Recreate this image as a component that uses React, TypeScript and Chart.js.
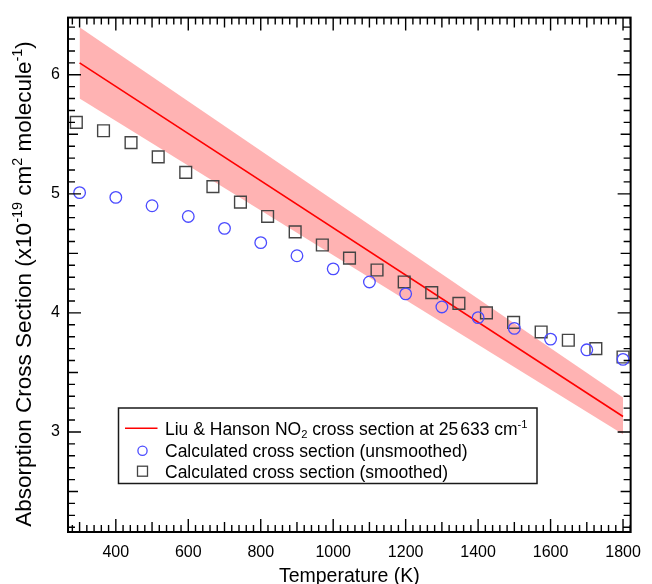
import { useEffect, useRef } from 'react';
import { Chart, registerables } from 'chart.js';

Chart.register(...registerables);

const FONT = '"Liberation Sans", Arial, Helvetica, sans-serif';

// Calculated NO2 cross section, unsmoothed (blue circles)
const unsmoothedTemp = [300, 400, 500, 600, 700, 800, 900, 1000, 1100, 1200, 1300, 1400, 1500, 1600, 1700, 1800];
const unsmoothedSigma = [5.01, 4.97, 4.90, 4.81, 4.71, 4.59, 4.48, 4.37, 4.26, 4.16, 4.05, 3.96, 3.87, 3.78, 3.69, 3.61];

// Calculated NO2 cross section, smoothed (grey squares)
const smoothedTemp = [291, 366, 442, 517, 593, 668, 744, 819, 895, 970, 1045, 1121, 1196, 1272, 1347, 1423, 1498, 1574, 1649, 1725, 1800];
const smoothedSigma = [5.60, 5.53, 5.43, 5.31, 5.18, 5.06, 4.93, 4.81, 4.68, 4.57, 4.46, 4.36, 4.26, 4.17, 4.08, 4.00, 3.92, 3.84, 3.77, 3.70, 3.63];

// Liu & Hanson cross section at 25633 cm-1 with its uncertainty band
const liuHansonTemp = [300, 1800];
const liuHansonSigma = [6.10, 3.13];
const liuHansonUpper = [6.40, 3.29];
const liuHansonLower = [5.80, 2.98];

// Axis tick labels
const xTickLabels = [400, 600, 800, 1000, 1200, 1400, 1600, 1800];
const yTickLabels = [3, 4, 5, 6];

type Seg = { text: string; mode?: 'sup' | 'sub'; gap?: number };

const yTitle: Seg[] = [
  { text: 'Absorption Cross Section (x10' },
  { text: '-19', mode: 'sup' },
  { text: ' cm' },
  { text: '2', mode: 'sup' },
  { text: ' molecule' },
  { text: '-1', mode: 'sup' },
  { text: ')' },
];
const xTitle: Seg[] = [{ text: 'Temperature (K)' }];

const legendLine: Seg[] = [
  { text: 'Liu & Hanson NO' },
  { text: '2', mode: 'sub' },
  { text: ' cross section at 25' },
  { text: '', gap: 2 },
  { text: '633 cm' },
  { text: '-1', mode: 'sup' },
];
const legendCircles: Seg[] = [{ text: 'Calculated cross section (unsmoothed)' }];
const legendSquares: Seg[] = [{ text: 'Calculated cross section (smoothed)' }];

const CIRCLE_COLOR = '#4b4bff';
const SQUARE_COLOR = '#444444';
const LINE_COLOR = '#ff0000';
const BAND_COLOR = '#ffb3b3';

function scriptSize(size: number) {
  return size * 0.64;
}

function measureRich(ctx: CanvasRenderingContext2D, segs: Seg[], size: number) {
  let w = 0;
  for (const s of segs) {
    if (s.gap) {
      w += s.gap;
      continue;
    }
    ctx.font = `${s.mode ? scriptSize(size) : size}px ${FONT}`;
    w += ctx.measureText(s.text).width;
  }
  return w;
}

function drawRich(ctx: CanvasRenderingContext2D, segs: Seg[], x: number, baseline: number, size: number) {
  ctx.textAlign = 'left';
  ctx.textBaseline = 'alphabetic';
  let cx = x;
  for (const s of segs) {
    if (s.gap) {
      cx += s.gap;
      continue;
    }
    ctx.font = `${s.mode ? scriptSize(size) : size}px ${FONT}`;
    const dy = s.mode === 'sup' ? -size * 0.38 : s.mode === 'sub' ? size * 0.2 : 0;
    ctx.fillText(s.text, cx, baseline + dy);
    cx += ctx.measureText(s.text).width;
  }
}

// Mirrored inward ticks on all four sides plus the plot frame
const frameTicks = {
  id: 'frameTicks',
  afterDatasetsDraw(chart: any) {
    const { ctx, chartArea: a, scales } = chart;
    const x = scales.x;
    const y = scales.y;
    ctx.save();
    ctx.strokeStyle = '#000';
    ctx.lineWidth = 1.4;
    ctx.beginPath();
    for (let k = Math.ceil(x.min / 20); k * 20 <= x.max; k++) {
      const v = k * 20;
      const len = v % 200 === 0 ? 13 : v % 100 === 0 ? 10 : 7;
      const px = x.getPixelForValue(v);
      ctx.moveTo(px, a.bottom);
      ctx.lineTo(px, a.bottom - len);
      ctx.moveTo(px, a.top);
      ctx.lineTo(px, a.top + len);
    }
    for (let k = Math.ceil(y.min * 10 - 1e-6); k <= Math.floor(y.max * 10 + 1e-6); k++) {
      const len = k % 10 === 0 ? 13 : k % 5 === 0 ? 10 : 7;
      const py = y.getPixelForValue(k / 10);
      ctx.moveTo(a.left, py);
      ctx.lineTo(a.left + len, py);
      ctx.moveTo(a.right, py);
      ctx.lineTo(a.right - len, py);
    }
    ctx.stroke();
    ctx.lineWidth = 2;
    ctx.strokeRect(a.left, a.top, a.right - a.left, a.bottom - a.top);
    ctx.restore();
  },
};

// Axis titles and the boxed legend
const annotations = {
  id: 'annotations',
  afterDraw(chart: any) {
    const { ctx, chartArea: a } = chart;
    ctx.save();
    ctx.fillStyle = '#000';

    const xs = 19.5;
    const xw = measureRich(ctx, xTitle, xs);
    drawRich(ctx, xTitle, (a.left + a.right) / 2 - xw / 2, 582, xs);

    const ys = 22.5;
    const yw = measureRich(ctx, yTitle, ys);
    ctx.save();
    ctx.translate(31, 284);
    ctx.rotate(-Math.PI / 2);
    drawRich(ctx, yTitle, -yw / 2, 0, ys);
    ctx.restore();

    // legend box
    const bx = 118.5;
    const by = 408;
    const bw = 418.5;
    const bh = 75.5;
    ctx.fillStyle = '#fff';
    ctx.fillRect(bx, by, bw, bh);
    ctx.strokeStyle = '#1a1a1a';
    ctx.lineWidth = 1.5;
    ctx.strokeRect(bx, by, bw, bh);

    const ls = 17.5;
    const textX = 165;
    const symX = 142.5;
    const rows = [434.5, 456.5, 477.5];

    ctx.strokeStyle = LINE_COLOR;
    ctx.lineWidth = 1.6;
    ctx.beginPath();
    ctx.moveTo(125, rows[0] - 6.3);
    ctx.lineTo(157.5, rows[0] - 6.3);
    ctx.stroke();

    ctx.strokeStyle = CIRCLE_COLOR;
    ctx.lineWidth = 1.3;
    ctx.beginPath();
    ctx.arc(symX, rows[1] - 5.8, 4.6, 0, Math.PI * 2);
    ctx.stroke();

    ctx.strokeStyle = SQUARE_COLOR;
    ctx.lineWidth = 1.3;
    ctx.strokeRect(symX - 5, rows[2] - 6.3 - 5, 10, 10);

    ctx.fillStyle = '#000';
    drawRich(ctx, legendLine, textX, rows[0], ls);
    drawRich(ctx, legendCircles, textX, rows[1], ls);
    drawRich(ctx, legendSquares, textX, rows[2], ls);
    ctx.restore();
  },
};

export default function App() {
  const ref = useRef<HTMLCanvasElement>(null);

  useEffect(() => {
    const canvas = ref.current;
    if (!canvas) return;
    const pts = (xs: number[], ys: number[]) => xs.map((t, i) => ({ x: t, y: ys[i] }));
    const tickFont = { family: FONT, size: 16 };

    const chart = new Chart(canvas, {
      type: 'line',
      data: {
        datasets: [
          {
            label: 'Calculated cross section (unsmoothed)',
            data: pts(unsmoothedTemp, unsmoothedSigma),
            showLine: false,
            pointStyle: 'circle',
            pointRadius: 5.8,
            pointHoverRadius: 5.8,
            pointBorderColor: CIRCLE_COLOR,
            pointBackgroundColor: 'rgba(0,0,0,0)',
            pointBorderWidth: 1.3,
          },
          {
            label: 'Calculated cross section (smoothed)',
            data: pts(smoothedTemp, smoothedSigma),
            showLine: false,
            pointStyle: 'rect',
            pointRadius: 8.3,
            pointHoverRadius: 8.3,
            pointBorderColor: SQUARE_COLOR,
            pointBackgroundColor: 'rgba(0,0,0,0)',
            pointBorderWidth: 1.4,
          },
          {
            label: 'Liu & Hanson NO2 cross section at 25633 cm-1',
            data: pts(liuHansonTemp, liuHansonSigma),
            borderColor: LINE_COLOR,
            borderWidth: 1.6,
            pointRadius: 0,
            pointHoverRadius: 0,
            fill: false,
          },
          {
            label: 'lower bound',
            data: pts(liuHansonTemp, liuHansonLower),
            borderColor: 'rgba(0,0,0,0)',
            borderWidth: 0,
            pointRadius: 0,
            pointHoverRadius: 0,
            fill: false,
          },
          {
            label: 'upper bound',
            data: pts(liuHansonTemp, liuHansonUpper),
            borderColor: 'rgba(0,0,0,0)',
            borderWidth: 0,
            pointRadius: 0,
            pointHoverRadius: 0,
            backgroundColor: BAND_COLOR,
            fill: '-1',
          },
        ],
      },
      options: {
        animation: false,
        responsive: false,
        maintainAspectRatio: false,
        events: [],
        layout: { padding: { left: 0, right: 13, top: 16, bottom: 0 } },
        plugins: {
          legend: { display: false },
          tooltip: { enabled: false },
        },
        scales: {
          x: {
            type: 'linear',
            min: 268,
            max: 1821,
            grid: { display: false, drawTicks: false },
            border: { display: false },
            ticks: {
              font: tickFont,
              color: '#000',
              padding: 11,
              maxRotation: 0,
              autoSkip: false,
              callback: (v: any) => String(v),
            },
            afterBuildTicks: (s: any) => {
              s.ticks = xTickLabels.map((v) => ({ value: v }));
            },
            afterFit: (s: any) => {
              s.height = 52;
            },
          },
          y: {
            type: 'linear',
            min: 2.16,
            max: 6.48,
            grid: { display: false, drawTicks: false },
            border: { display: false },
            ticks: {
              font: tickFont,
              color: '#000',
              padding: 8,
              autoSkip: false,
              callback: (v: any) => String(v),
            },
            afterBuildTicks: (s: any) => {
              s.ticks = yTickLabels.map((v) => ({ value: v }));
            },
            afterFit: (s: any) => {
              s.width = 68;
            },
          },
        },
      },
      plugins: [frameTicks, annotations],
    } as any);

    return () => chart.destroy();
  }, []);

  return (
    <div style={{ position: 'absolute', left: 0, top: 0, width: 652, height: 584, background: '#fff' }}>
      <canvas ref={ref} width={652} height={584} style={{ display: 'block' }} />
    </div>
  );
}
